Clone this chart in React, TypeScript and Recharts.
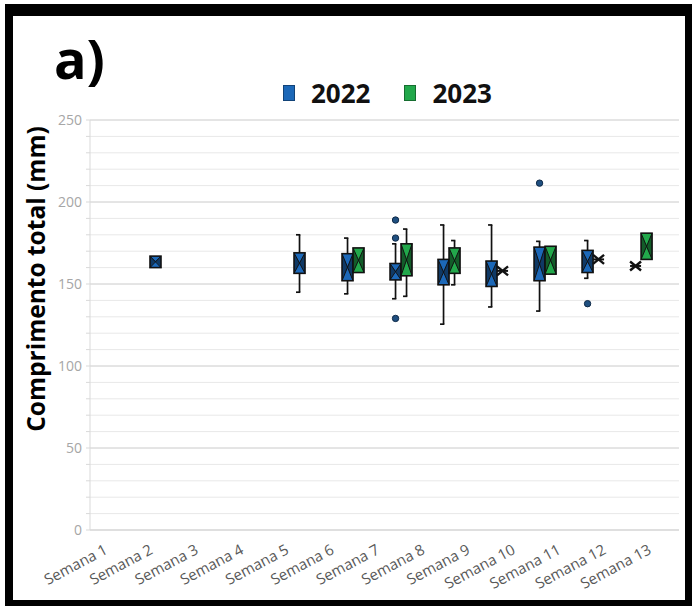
import React from 'react';
import { ComposedChart, Bar, XAxis, YAxis, CartesianGrid } from 'recharts';

const weeks = [
  'Semana 1', 'Semana 2', 'Semana 3', 'Semana 4', 'Semana 5', 'Semana 6', 'Semana 7',
  'Semana 8', 'Semana 9', 'Semana 10', 'Semana 11', 'Semana 12', 'Semana 13',
];

// 2022 (blue) - five-number summary per week, null = no sample
const min2022 = [null, 160, null, null, 145, 144, 141, 125.5, 136, 133.5, 153.5, 161, null];
const q1_2022 = [null, 160, null, null, 156.5, 152, 152.5, 149.5, 148.5, 152, 157, 161, null];
const med2022 = [null, 164, null, null, 163, 160.5, 158, 157.5, 156.5, 162.5, 163.5, 161, null];
const q3_2022 = [null, 167, null, null, 169, 168.5, 162.5, 165, 164, 172.5, 170.5, 161, null];
const max2022 = [null, 167, null, null, 180, 178, 174.5, 186, 186, 176, 176.5, 161, null];
const out2022 = [[], [], [], [], [], [], [189, 178, 129], [], [], [211.5], [138], [], []];

// 2023 (green)
const min2023 = [null, null, null, null, null, 157, 142.5, 149.5, 158, 156, 165, 165, null];
const q1_2023 = [null, null, null, null, null, 157, 155, 156.5, 158, 156, 165, 165, null];
const med2023 = [null, null, null, null, null, 164.5, 164.5, 164, 158, 164.5, 165, 173, null];
const q3_2023 = [null, null, null, null, null, 172, 174.5, 172, 158, 173, 165, 181, null];
const max2023 = [null, null, null, null, null, 172, 183.5, 176.5, 158, 173, 165, 181, null];
const out2023 = [[], [], [], [], [], [], [], [], [], [], [], [], []];

const yTicks = [0, 10, 20, 30, 40, 50, 60, 70, 80, 90, 100, 110, 120, 130, 140, 150, 160, 170, 180, 190, 200, 210, 220, 230, 240, 250];
const yMajor = [0, 50, 100, 150, 200, 250];

const BLUE = '#1c68b8';
const GREEN = '#22a84b';
const FONT = '"Open Sans", "Liberation Sans", sans-serif';

function stat(mins: any[], q1s: any[], meds: any[], q3s: any[], maxs: any[], outs: number[][], i: number) {
  if (mins[i] == null) return null;
  return { min: mins[i], q1: q1s[i], med: meds[i], q3: q3s[i], max: maxs[i], out: outs[i] };
}

const data = weeks.map((name, i) => ({
  name,
  wk: i + 1,
  b22: stat(min2022, q1_2022, med2022, q3_2022, max2022, out2022, i),
  b23: stat(min2023, q1_2023, med2023, q3_2023, max2023, out2023, i),
}));

function boxShape(key: 'b22' | 'b23', fill: string) {
  return (props: any) => {
    const { x, y, width, height, payload } = props;
    const s = payload && payload[key];
    if (!s || x == null || y == null) return <g />;
    const top = height >= 0 ? y : y + height;
    const h = Math.abs(height || 0);
    const span = s.max - s.min;
    const py = (v: number) => (span === 0 ? top : top + ((s.max - v) / span) * h);
    const cx = x + width / 2;
    const k = '#111';

    if (span === 0) {
      const yy = py(s.med);
      return (
        <g>
          <line x1={x} x2={x + width} y1={yy} y2={yy} stroke={k} strokeWidth={2} />
          <line x1={cx - 5.5} x2={cx + 5.5} y1={yy - 4.5} y2={yy + 4.5} stroke={k} strokeWidth={2.4} />
          <line x1={cx - 5.5} x2={cx + 5.5} y1={yy + 4.5} y2={yy - 4.5} stroke={k} strokeWidth={2.4} />
        </g>
      );
    }

    const yMax = py(s.max);
    const yQ3 = py(s.q3);
    const yMed = py(s.med);
    const yQ1 = py(s.q1);
    const yMin = py(s.min);
    const r = x + width;

    return (
      <g>
        {yQ3 - yMax > 0.5 && (
          <g>
            <line x1={cx} x2={cx} y1={yMax} y2={yQ3} stroke={k} strokeWidth={1.7} />
            <line x1={cx - 3.5} x2={cx + 0.8} y1={yMax} y2={yMax} stroke={k} strokeWidth={1.7} />
          </g>
        )}
        {yMin - yQ1 > 0.5 && (
          <g>
            <line x1={cx} x2={cx} y1={yQ1} y2={yMin} stroke={k} strokeWidth={1.7} />
            <line x1={cx - 3.5} x2={cx + 0.8} y1={yMin} y2={yMin} stroke={k} strokeWidth={1.7} />
          </g>
        )}
        <rect x={x} y={yQ3} width={width} height={yQ1 - yQ3} fill={fill} />
        <polygon points={`${x},${yQ3} ${cx},${yMed} ${x},${yQ1}`} fill="rgba(0,0,0,0.45)" />
        <polygon points={`${r},${yQ3} ${cx},${yMed} ${r},${yQ1}`} fill="rgba(0,0,0,0.45)" />
        <line x1={x} y1={yQ3} x2={r} y2={yQ1} stroke={k} strokeWidth={1} />
        <line x1={r} y1={yQ3} x2={x} y2={yQ1} stroke={k} strokeWidth={1} />
        <rect x={x} y={yQ3} width={width} height={yQ1 - yQ3} fill="none" stroke={k} strokeWidth={1.6} />
        {s.out.map((o: number, j: number) => (
          <circle key={j} cx={cx} cy={py(o)} r={3.2} fill="#1f4f80" stroke="#0f2a48" strokeWidth={1} />
        ))}
      </g>
    );
  };
}

const WeekTick = (props: any) => {
  const { x, y, payload } = props;
  const ax = x - 4;
  const ay = y + 15;
  return (
    <text
      x={ax}
      y={ay}
      transform={`rotate(-28 ${ax} ${ay})`}
      textAnchor="end"
      fontSize={15}
      fontFamily={FONT}
      fill="#595959"
    >
      {payload.value}
    </text>
  );
};

const YTitle = (props: any) => {
  const vb = props.viewBox || { x: 0, y: 120, width: 90, height: 410 };
  const cx = vb.x + 35;
  const cy = vb.y + vb.height / 2 - 46;
  return (
    <text
      x={cx}
      y={cy}
      transform={`rotate(-90 ${cx} ${cy})`}
      textAnchor="middle"
      dominantBaseline="central"
      fontSize={24.5}
      fontWeight={700}
      fontFamily={FONT}
      fill="#000"
    >
      Comprimento total (mm)
    </text>
  );
};

const legendItems = [
  { label: '2022', color: BLUE },
  { label: '2023', color: GREEN },
];

export default function App() {
  return (
    <div
      style={{
        position: 'absolute',
        left: 0,
        top: 0,
        width: 696,
        height: 610,
        background: '#fff',
        overflow: 'hidden',
        fontFamily: FONT,
      }}
    >
      <ComposedChart
        width={696}
        height={610}
        data={data}
        margin={{ top: 120, right: 17, left: 0, bottom: 10 }}
        barGap={0}
      >
        <CartesianGrid xAxisId="cat" vertical={false} stroke="#e8e8e8" />
        <CartesianGrid xAxisId="cat" vertical={false} stroke="#d6d6d6" horizontalValues={yMajor} />
        <XAxis
          xAxisId="cat"
          dataKey="name"
          type="category"
          interval={0}
          height={70}
          tickLine={false}
          axisLine={{ stroke: '#d9d9d9' }}
          tick={<WeekTick />}
        />
        <XAxis
          xAxisId="num"
          dataKey="wk"
          type="number"
          domain={[0.521, 12.79]}
          ticks={data.map((d) => d.wk)}
          allowDataOverflow
          hide
        />
        <YAxis
          width={90}
          domain={[0, 250]}
          ticks={yTicks}
          interval={0}
          tickFormatter={(v: number) => (v % 50 === 0 ? String(v) : '')}
          tick={{ fill: '#a6a6a6', fontSize: 14, fontFamily: FONT }}
          tickSize={4}
          tickMargin={4}
          tickLine={{ stroke: '#d9d9d9' }}
          axisLine={{ stroke: '#d9d9d9' }}
          label={{ content: <YTitle /> }}
        />
        <Bar
          xAxisId="num"
          dataKey={(r: any) => (r.b22 ? [r.b22.min, r.b22.max] : null)}
          barSize={11}
          shape={boxShape('b22', BLUE)}
          isAnimationActive={false}
        />
        <Bar
          xAxisId="num"
          dataKey={(r: any) => (r.b23 ? [r.b23.min, r.b23.max] : null)}
          barSize={11}
          shape={boxShape('b23', GREEN)}
          isAnimationActive={false}
        />
      </ComposedChart>

      <div style={{ position: 'absolute', left: 54, top: 31, fontSize: 54, lineHeight: '54px', fontWeight: 700, color: '#000' }}>
        a)
      </div>

      <div
        style={{
          position: 'absolute',
          left: 283,
          top: 80,
          display: 'flex',
          alignItems: 'center',
          height: 26,
          fontSize: 26,
          lineHeight: '26px',
          fontWeight: 700,
          color: '#111',
        }}
      >
        {legendItems.map((it, i) => (
          <div key={it.label} style={{ display: 'flex', alignItems: 'center', marginRight: i === 0 ? 34 : 0 }}>
            <div
              style={{
                width: 12,
                height: 16,
                background: it.color,
                border: '1px solid rgba(0,0,0,0.35)',
                marginRight: 16,
                boxSizing: 'border-box',
              }}
            />
            <span>{it.label}</span>
          </div>
        ))}
      </div>

      <div
        style={{
          position: 'absolute',
          left: 5,
          top: 4,
          right: 4,
          bottom: 4,
          borderTop: '12px solid #000',
          borderLeft: '8px solid #000',
          borderRight: '7px solid #000',
          borderBottom: '6px solid #000',
          pointerEvents: 'none',
        }}
      />
    </div>
  );
}
